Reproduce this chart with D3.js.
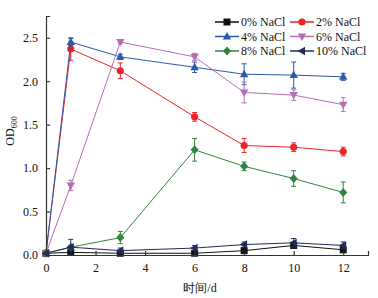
<!DOCTYPE html>
<html>
<head>
<meta charset="utf-8">
<script src="https://cdn.jsdelivr.net/npm/d3@7"></script>
<style>
  body { margin: 0; background: #fff; }
  svg text { font-family: "Liberation Serif", "Times New Roman", serif; }
</style>
</head>
<body>
<div id="chart"></div>
<script>
// sampling days
var days = [0, 1, 3, 6, 8, 10, 12];
var xTicks = [0, 2, 4, 6, 8, 10, 12];
var yTicks = [0.0, 0.5, 1.0, 1.5, 2.0, 2.5];

var nacl0  = [0.02, 0.03, 0.02, 0.02, 0.05, 0.11, 0.06];
var nacl0Err = [0.01, 0.02, 0.02, 0.02, 0.03, 0.03, 0.03];
var nacl2  = [0.02, 2.37, 2.12, 1.59, 1.26, 1.24, 1.19];
var nacl2Err = [0.01, 0.13, 0.09, 0.05, 0.08, 0.05, 0.05];
var nacl4  = [0.02, 2.45, 2.28, 2.16, 2.08, 2.07, 2.05];
var nacl4Err = [0.01, 0.04, 0.03, 0.06, 0.12, 0.15, 0.04];
var nacl6  = [0.02, 0.80, 2.45, 2.28, 1.87, 1.84, 1.73];
var nacl6Err = [0.01, 0.06, 0.02, 0.04, 0.12, 0.06, 0.08];
var nacl8  = [0.02, 0.09, 0.20, 1.21, 1.02, 0.88, 0.72];
var nacl8Err = [0.01, 0.02, 0.07, 0.13, 0.05, 0.09, 0.12];
var nacl10 = [0.02, 0.09, 0.05, 0.08, 0.12, 0.14, 0.11];
var nacl10Err = [0.01, 0.09, 0.03, 0.03, 0.03, 0.05, 0.04];

var series = [
  {name: "0% NaCl",  vals: nacl0,  err: nacl0Err,  color: "#111111", shape: "square"},
  {name: "2% NaCl",  vals: nacl2,  err: nacl2Err,  color: "#e8252b", shape: "circle"},
  {name: "4% NaCl",  vals: nacl4,  err: nacl4Err,  color: "#2b5aa8", shape: "up"},
  {name: "6% NaCl",  vals: nacl6,  err: nacl6Err,  color: "#b26fb6", shape: "down"},
  {name: "8% NaCl",  vals: nacl8,  err: nacl8Err,  color: "#2e8540", shape: "diamond"},
  {name: "10% NaCl", vals: nacl10, err: nacl10Err, color: "#222a5e", shape: "left"}
];

var W = 378, H = 298;
var margin = {top: 16, right: 10, bottom: 43, left: 46};
var width = W - margin.left - margin.right;
var height = H - margin.top - margin.bottom;

var svg = d3.select("#chart").append("svg")
  .attr("width", W).attr("height", H);
var g = svg.append("g")
  .attr("transform", "translate(" + margin.left + "," + margin.top + ")");

var x = d3.scaleLinear().domain([0, 13]).range([0, width]);
var y = d3.scaleLinear().domain([0, 2.75]).range([height, 0]);

function markerPath(shape) {
  if (shape === "square") return "M-3.5,-3.5H3.5V3.5H-3.5Z";
  if (shape === "circle") return d3.symbol(d3.symbolCircle, 40)();
  if (shape === "up") return "M0,-4.5L4.2,3L-4.2,3Z";
  if (shape === "down") return "M0,4.5L4.2,-3L-4.2,-3Z";
  if (shape === "diamond") return "M0,-4.5L4,0L0,4.5L-4,0Z";
  if (shape === "left") return "M-4.5,0L3,-4.2L3,4.2Z";
}

// series
series.forEach(function(s) {
  var pts = days.map(function(d, i) { return {x: d, y: s.vals[i], e: s.err[i]}; });
  var sg = g.append("g");
  sg.append("path")
    .datum(pts)
    .attr("fill", "none")
    .attr("stroke", s.color)
    .attr("stroke-width", 1)
    .attr("d", d3.line().x(function(d) { return x(d.x); }).y(function(d) { return y(d.y); }));

  var eb = sg.selectAll(".eb").data(pts).enter().append("g");
  eb.append("line")
    .attr("x1", function(d) { return x(d.x); }).attr("x2", function(d) { return x(d.x); })
    .attr("y1", function(d) { return y(d.y - d.e); }).attr("y2", function(d) { return y(d.y + d.e); })
    .attr("stroke", s.color).attr("stroke-width", 1);
  eb.append("line")
    .attr("x1", function(d) { return x(d.x) - 2.5; }).attr("x2", function(d) { return x(d.x) + 2.5; })
    .attr("y1", function(d) { return y(d.y + d.e); }).attr("y2", function(d) { return y(d.y + d.e); })
    .attr("stroke", s.color).attr("stroke-width", 1);
  eb.append("line")
    .attr("x1", function(d) { return x(d.x) - 2.5; }).attr("x2", function(d) { return x(d.x) + 2.5; })
    .attr("y1", function(d) { return y(d.y - d.e); }).attr("y2", function(d) { return y(d.y - d.e); })
    .attr("stroke", s.color).attr("stroke-width", 1);

  sg.selectAll(".mk").data(pts).enter().append("path")
    .attr("d", markerPath(s.shape))
    .attr("transform", function(d) { return "translate(" + x(d.x) + "," + y(d.y) + ")"; })
    .attr("fill", s.color);
});

// axes
var xAxis = d3.axisBottom(x).tickValues(xTicks).tickSizeInner(-4).tickSizeOuter(-4)
  .tickPadding(8).tickFormat(d3.format("d"));
var yAxis = d3.axisLeft(y).tickValues(yTicks).tickSizeInner(-4).tickSizeOuter(-4)
  .tickPadding(8).tickFormat(d3.format(".1f"));

var gx = g.append("g").attr("transform", "translate(0," + height + ")").call(xAxis);
var gy = g.append("g").call(yAxis);
[gx, gy].forEach(function(a) {
  a.selectAll("path, line").attr("stroke", "#333").attr("stroke-width", 1.2);
  a.selectAll("text").attr("fill", "#111").style("font-size", "12px");
});

// axis titles
svg.append("text")
  .attr("transform", "translate(14," + 131 + ") rotate(-90)")
  .attr("text-anchor", "middle")
  .style("font-size", "12px")
  .attr("fill", "#111")
  .html('OD<tspan font-size="8px" dy="3">600</tspan>');

svg.append("text")
  .attr("x", 200).attr("y", 292)
  .attr("text-anchor", "middle")
  .style("font-size", "12px")
  .attr("fill", "#111")
  .text("时间/d");

// legend
var legendX = [215, 290];
var legendY = [22, 36.5, 51];
series.forEach(function(s, i) {
  var lx = legendX[i % 2], ly = legendY[Math.floor(i / 2)];
  var lg = svg.append("g");
  lg.append("line").attr("x1", lx).attr("x2", lx + 24).attr("y1", ly).attr("y2", ly)
    .attr("stroke", s.color).attr("stroke-width", 1.5);
  lg.append("path").attr("d", markerPath(s.shape))
    .attr("transform", "translate(" + (lx + 12) + "," + ly + ")")
    .attr("fill", s.color);
  lg.append("text").attr("x", lx + 26).attr("y", ly + 4)
    .style("font-size", "12px").attr("fill", "#111")
    .text(s.name);
});
</script>
</body>
</html>
